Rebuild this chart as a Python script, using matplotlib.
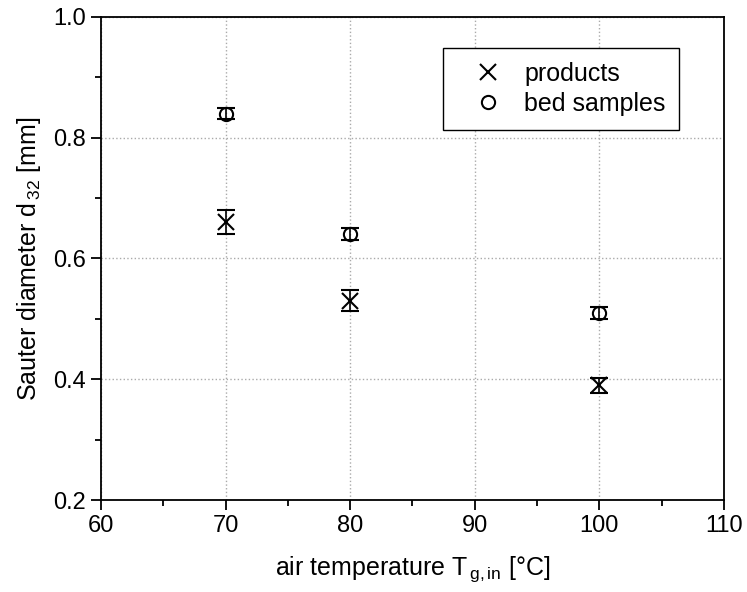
import numpy as np
import matplotlib.pyplot as plt
from matplotlib.ticker import MultipleLocator
from matplotlib.lines import Line2D

plt.rcParams['font.family'] = ['Liberation Sans', 'DejaVu Sans']
plt.rcParams['mathtext.fontset'] = 'custom'
plt.rcParams['mathtext.rm'] = 'Liberation Sans'
plt.rcParams['mathtext.it'] = 'Liberation Sans'

temps = [70, 80, 100]
prod_d32 = [0.66, 0.53, 0.39]
prod_err = [0.02, 0.017, 0.012]
bed_d32 = [0.84, 0.64, 0.51]
bed_err = [0.009, 0.01, 0.01]

fig = plt.figure(figsize=(7.47, 5.92), dpi=100)
ax = fig.add_axes([0.1352, 0.1554, 0.834, 0.816])

ax.errorbar(temps, prod_d32, yerr=prod_err, fmt='x', color='black', ms=11, mew=1.5,
            elinewidth=1.2, capsize=6.5, capthick=1.2)
ax.errorbar(temps, bed_d32, yerr=bed_err, fmt='o', color='black', mfc='none', ms=9.5, mew=1.5,
            elinewidth=1.2, capsize=6.5, capthick=1.2)

ax.set_xlim(60, 110)
ax.set_ylim(0.2, 1.0)
ax.xaxis.set_major_locator(MultipleLocator(10))
ax.xaxis.set_minor_locator(MultipleLocator(5))
ax.yaxis.set_major_locator(MultipleLocator(0.2))
ax.yaxis.set_minor_locator(MultipleLocator(0.1))
ax.tick_params(which='both', direction='out', top=False, right=False, labelsize=17, width=1.3)
ax.tick_params(which='major', length=7, pad=4)
ax.tick_params(which='minor', length=4)
ax.grid(True, which='major', linestyle=':', color='#aaaaaa', linewidth=1)
for s in ax.spines.values():
    s.set_linewidth(1.3)

ax.set_xlabel('air temperature T$_{\\,\\rm g,in}$ [°C]', fontsize=18, labelpad=12)
ax.set_ylabel('Sauter diameter d$_{\\,\\rm 32}$ [mm]', fontsize=18, labelpad=7)

handles = [Line2D([], [], ls='none', marker='x', color='black', ms=11, mew=1.5),
           Line2D([], [], ls='none', marker='o', color='black', mfc='none', ms=9.5, mew=1.5)]
leg = ax.legend(handles, ['products', 'bed samples'], loc='upper right',
                bbox_to_anchor=(0.928, 0.936), borderaxespad=0, fontsize=18, fancybox=False,
                edgecolor='black', framealpha=1, handletextpad=0.2, borderpad=0.55,
                handlelength=2.5, labelspacing=0.25)
leg.get_frame().set_linewidth(1.0)

fig.savefig('out.png', dpi=100)
